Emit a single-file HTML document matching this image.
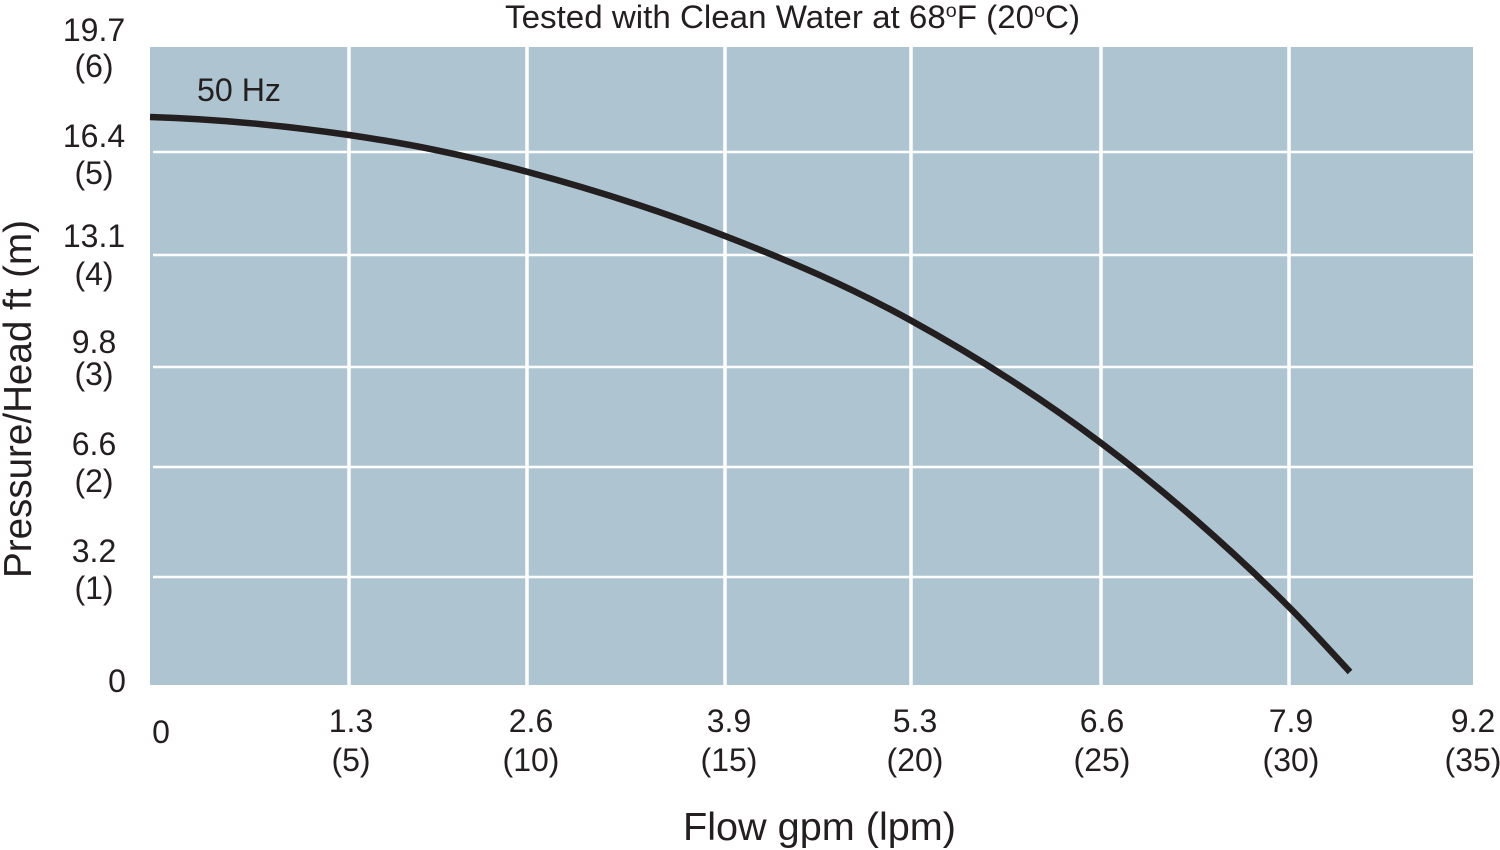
<!DOCTYPE html>
<html>
<head>
<meta charset="utf-8">
<style>
html,body{margin:0;padding:0;background:#fff;}
svg{display:block;}
text{font-family:"Liberation Sans",Arial,sans-serif;fill:#231f20;}
</style>
</head>
<body>
<svg width="1500" height="850" viewBox="0 0 1500 850" xmlns="http://www.w3.org/2000/svg">
  <!-- title -->
  <text x="505" y="28" font-size="32" textLength="575" lengthAdjust="spacingAndGlyphs">Tested with Clean Water at 68<tspan font-size="19" dy="-11">o</tspan><tspan dy="11">F (20</tspan><tspan font-size="19" dy="-11">o</tspan><tspan dy="11">C)</tspan></text>

  <!-- plot background -->
  <rect x="150" y="47" width="1323" height="638" fill="#aec5d1"/>

  <!-- horizontal grid -->
  <g stroke="#ffffff" stroke-width="2.5">
    <line x1="153" y1="152" x2="1473" y2="152"/>
    <line x1="153" y1="255" x2="1473" y2="255"/>
    <line x1="153" y1="367" x2="1473" y2="367"/>
    <line x1="153" y1="467" x2="1473" y2="467"/>
    <line x1="153" y1="577" x2="1473" y2="577"/>
  </g>
  <!-- vertical grid -->
  <g stroke="#ffffff" stroke-width="3.5">
    <line x1="349" y1="47" x2="349" y2="685"/>
    <line x1="527" y1="47" x2="527" y2="685"/>
    <line x1="725" y1="47" x2="725" y2="685"/>
    <line x1="911" y1="47" x2="911" y2="685"/>
    <line x1="1101" y1="47" x2="1101" y2="685"/>
    <line x1="1289" y1="47" x2="1289" y2="685"/>
  </g>

  <!-- curve -->
  <path d="M150,117 C216,119 286,125.8 349,135 C412,144.2 465.3,155.2 528,172 C590.7,188.8 661.3,211.3 725,236 C788.7,260.7 847.3,285.5 910,320 C972.7,354.5 1040,397 1101,443 C1163.7,490 1230,548 1289,607 C1309,627 1330,650.5 1350,672"
        fill="none" stroke="#231f20" stroke-width="6.5" stroke-linecap="butt"/>

  <!-- 50 Hz label -->
  <text x="197" y="101" font-size="32" textLength="84" lengthAdjust="spacingAndGlyphs">50 Hz</text>

  <!-- y tick labels -->
  <g font-size="32" text-anchor="middle">
    <text x="94" y="41">19.7</text>
    <text x="94" y="77">(6)</text>
    <text x="94" y="147">16.4</text>
    <text x="94" y="184">(5)</text>
    <text x="94" y="247">13.1</text>
    <text x="94" y="285">(4)</text>
    <text x="94" y="353">9.8</text>
    <text x="94" y="385">(3)</text>
    <text x="94" y="455">6.6</text>
    <text x="94" y="492">(2)</text>
    <text x="94" y="562">3.2</text>
    <text x="94" y="599">(1)</text>
    <text x="117" y="692">0</text>
  </g>

  <!-- x tick labels -->
  <g font-size="32" text-anchor="middle">
    <text x="161" y="743">0</text>
    <text x="351" y="732">1.3</text>
    <text x="351" y="771">(5)</text>
    <text x="531" y="732">2.6</text>
    <text x="531" y="771">(10)</text>
    <text x="729" y="732">3.9</text>
    <text x="729" y="771">(15)</text>
    <text x="915" y="732">5.3</text>
    <text x="915" y="771">(20)</text>
    <text x="1102" y="732">6.6</text>
    <text x="1102" y="771">(25)</text>
    <text x="1291" y="732">7.9</text>
    <text x="1291" y="771">(30)</text>
    <text x="1473" y="732">9.2</text>
    <text x="1473" y="771">(35)</text>
  </g>

  <!-- axis titles -->
  <text x="683" y="840" font-size="39" textLength="273" lengthAdjust="spacingAndGlyphs">Flow gpm (lpm)</text>
  <text transform="translate(31,578) rotate(-90)" x="0" y="0" font-size="39" textLength="358" lengthAdjust="spacingAndGlyphs">Pressure/Head ft (m)</text>
</svg>
</body>
</html>
